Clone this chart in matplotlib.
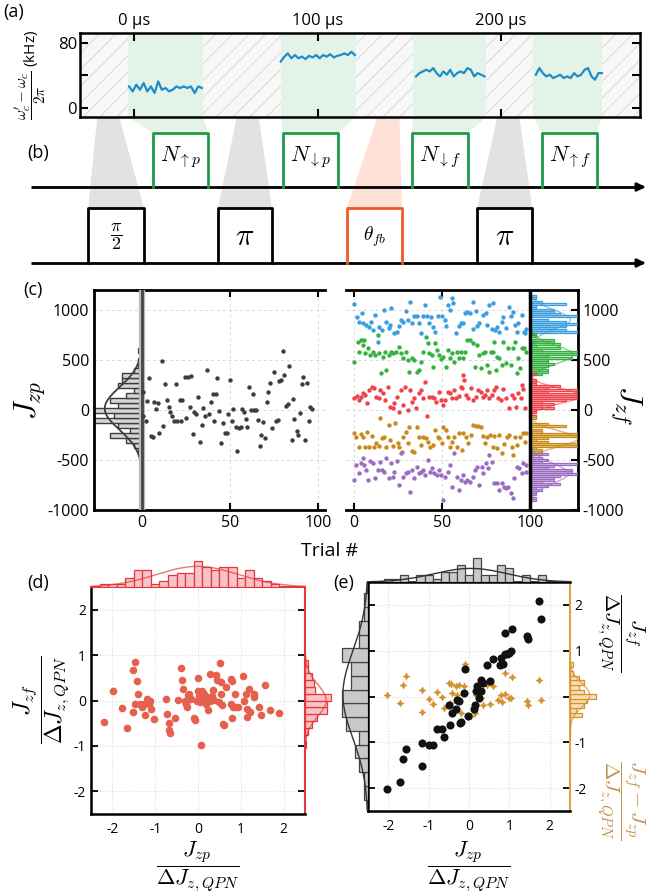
import numpy as np
import matplotlib.pyplot as plt
from matplotlib.patches import Polygon

plt.rcParams['font.family'] = ['Open Sans', 'DejaVu Sans']
plt.rcParams['mathtext.fontset'] = 'cm'
plt.rcParams['axes.unicode_minus'] = False
plt.rcParams['hatch.linewidth'] = 0.9
plt.rcParams['hatch.color'] = '#dedede'

# ---------------- data ----------------
# (a) cavity frequency shift during the four measurement windows (kHz), time in us
time_ticks = [0, 100, 200]
green_bands = [(-3.3, 37.6), (80.0, 121.0), (152.0, 192.0), (217.5, 255.0)]
trace_spans = [(-2.7, 37.0), (80.0, 120.4), (153.7, 191.0), (219.0, 255.0)]
trace_up_p = [26.5, 20.4, 28.6, 22.4, 30.6, 20.4, 26.5, 18.4, 32.6, 22.4, 24.5,
              20.4, 22.4, 26.5, 24.5, 26.5, 24.5, 26.5, 18.4, 26.5, 24.5]
trace_dn_p = [57, 63, 67, 61, 65, 61, 63, 60, 64, 62, 65, 61, 65, 63, 66, 62,
              64, 65, 67, 65, 69, 65]
trace_dn_f = [38.8, 42.8, 44.9, 46.9, 44.9, 49.0, 42.8, 38.8, 44.9, 40.8, 46.9,
              38.8, 42.8, 44.9, 42.8, 49.0, 46.9, 38.8, 42.8, 40.8, 38.8]
trace_up_f = [40.8, 49.0, 42.8, 38.8, 40.8, 36.7, 38.8, 40.8, 36.7, 38.8, 36.7,
              42.8, 38.8, 40.8, 46.9, 49.0, 38.8, 34.7, 42.8, 42.8]

# (b) pulse sequence windows (us)
meas_pulses = [(10.4, 40.3), (81.2, 111.2), (151.5, 182.0), (222.3, 252.3)]
meas_labels = [r'$N_{\uparrow p}$', r'$N_{\downarrow p}$', r'$N_{\downarrow f}$', r'$N_{\uparrow f}$']
rot_pulses = [(-25.0, 5.4), (45.8, 75.2), (116.0, 146.0), (187.0, 217.0)]
rot_labels = [r'$\dfrac{\pi}{2}$', r'$\pi$', r'$\theta_{fb}$', r'$\pi$']
rot_apex = [-14.0, 62.0, 138.7, 204.0]

# (c) left: prediction measurement J_zp per trial
zp_trial = [0.8, 0.8, 2, 4.2, 3, 5.1, 6, 7, 8, 9.8, 9, 11.2, 11.7, 12.9, 14, 15.1, 15.9,
            16.8, 18, 19.1, 19.7, 21.4, 22, 22.9, 24.6, 24.8, 26.3, 27.3, 28, 28.8, 29.7,
            30.7, 32, 33, 33.9, 34.8, 35.8, 36.7, 37.9, 39, 40.1, 40.9, 42, 42.8, 43.9, 45,
            46.2, 47.1, 48.5, 49, 50, 51.1, 51.9, 53.2, 53.8, 54.9, 56, 57, 58.1, 59, 59.8,
            61, 61.9, 62.8, 63.8, 64.7, 66, 66.8, 67.8, 68.9, 69.8, 70.8, 71.7, 72.7, 73.8,
            74.9, 76.1, 77, 78, 79.1, 80.1, 80.8, 81.8, 82.7, 83.7, 85, 85.9, 86.5, 87.8,
            88.8, 89.7, 90.7, 91.6, 92.8, 93.5, 94.7, 95.4, 96.5]
zp_J = [183, -60, -110, 317, 90, -257, -273, 77, 7, -233, 67, 493, -160, 263, 97, 27, -20,
        -60, -107, 260, -110, 100, -107, 100, 333, -83, 333, 33, 340, -243, -17, -40, 133,
        -317, -150, 17, -60, 400, -40, 80, 160, -107, 160, 317, -10, -333, -127, -227, -233,
        -40, 300, -107, 10, -173, -407, -177, -173, 10, -20, -90, -167, 233, 0, 160, 0, 0,
        -100, -360, -250, -117, -277, 80, 177, 273, -183, 377, -107, -100, 293, 300, 587,
        350, 43, 60, 443, -300, 110, -93, -210, -250, -27, 263, 327, -300, 267, -113, 27, 10]

# (c) right: final measurement J_zf per trial for five feedback settings
blue_trial = [0, 1.5, 3, 4.5, 5.3, 6.8, 8.3, 9.7, 10.6, 12.1, 13.4, 14.4, 15.9, 17.2, 18.2,
              19.7, 21, 20.4, 22.9, 24.2, 25.4, 26.7, 28, 29.5, 30.7, 31.8, 32.9, 34.3, 35.6,
              36.8, 38, 40.1, 39.4, 41.3, 42.8, 43.9, 45, 46.2, 47.5, 49, 50, 51.5, 52.2,
              53.4, 54.5, 55.7, 56.4, 57.9, 59.4, 60.8, 62.1, 63, 64.4, 65.9, 67.4, 67.8,
              69.3, 69.7, 71.2, 73.1, 75, 75.3, 76.9, 78.2, 79.1, 80.1, 81, 82.5, 83.9, 84.8,
              86.3, 88.2, 89, 90.1, 91.4, 92.8, 93.3, 95.2, 96.5, 97.1, 98]
blue_J = [1060, 933, 883, 973, 867, 850, 827, 883, 800, 950, 683, 833, 800, 1000, 883, 817,
          1017, 850, 773, 783, 840, 900, 883, 993, 900, 1080, 867, 940, 940, 867, 773, 1050,
          940, 940, 873, 933, 827, 783, 940, 1133, 940, 900, 840, 1050, 1000, 1117, 1067,
          767, 840, 867, 867, 967, 983, 973, 1083, 807, 993, 840, 867, 950, 967, 850, 1050,
          807, 1067, 800, 833, 783, 883, 933, 817, 1033, 940, 983, 850, 783, 867, 950, 783,
          773, 807]
green_trial = [0, 2.1, 3, 4, 4.9, 5.9, 6.4, 7.8, 9.1, 10.6, 12.1, 13.4, 14.4, 15.3, 16.3,
               18.2, 17.8, 19.7, 21, 22.3, 23.9, 25.4, 26.7, 28, 29.5, 30.5, 31.4, 32.9, 34.3,
               35.6, 36.8, 38, 39.4, 40.9, 41.8, 42.8, 44.3, 44.7, 46.2, 47, 48.5, 49.4, 50.7,
               52.2, 53.2, 54.5, 55.7, 57, 58.3, 59.4, 60.8, 62.1, 63, 64.4, 65.9, 67.4, 68.7,
               70, 71.2, 71.9, 73.4, 74.4, 75.7, 76.9, 77.6, 78.8, 79.5, 80.6, 81.4, 82.5,
               83.9, 84.8, 86.3, 87.6, 89, 90.1, 91.4, 92.8, 93.3, 94.3, 95.2, 96.5, 98]
green_J = [483, 683, 583, 700, 650, 700, 567, 617, 550, 583, 550, 750, 567, 367, 533, 400,
           583, 550, 583, 567, 583, 633, 567, 517, 583, 500, 383, 517, 500, 383, 400, 483,
           583, 733, 667, 567, 550, 433, 667, 600, 550, 507, 533, 433, 600, 517, 567, 483,
           583, 517, 583, 517, 583, 700, 700, 667, 433, 650, 550, 417, 567, 583, 450, 383,
           583, 583, 683, 400, 533, 517, 450, 683, 467, 617, 450, 617, 683, 367, 517, 417,
           617, 617, 583]
red_trial = [0, 1.5, 2.7, 4, 4.9, 6.4, 7.2, 8.7, 10.2, 11.5, 12.5, 14, 14.8, 16.3, 17.8,
             19.1, 20.4, 22, 22.9, 24.2, 25.4, 26.7, 27.6, 29.2, 30.5, 31.8, 32.9, 34.3, 35.2,
             36.8, 38, 39.4, 40.5, 41.3, 42.8, 44.3, 45.6, 46.6, 48.1, 49.4, 50.7, 51.9,
             53.2, 54.5, 55.7, 57, 57.9, 59.4, 60.8, 61.1, 61.7, 62.5, 63.6, 64.9, 66.3,
             67.8, 69.3, 70.6, 71.9, 73.1, 74.4, 75.7, 76.9, 78.2, 79.5, 80.6, 82, 83.3,
             84.8, 86.3, 88.2, 89.5, 90.9, 92, 93.3, 94.7, 95.2, 96.2, 97.1]
red_J = [117, 140, 100, 133, 167, 150, 67, 200, 233, 217, 133, 117, 200, 167, 100, 233, 33,
         17, 67, 133, -17, 200, 50, 233, 0, 200, 83, 117, 17, 167, 200, 117, 283, -60, 133,
         133, 117, 83, 183, 100, 50, 100, 183, 167, 117, 200, 117, 140, 233, 217, 350, 300,
         150, 117, 217, 100, 133, 200, 183, 133, 150, 200, 117, 150, 200, 233, 117, 100, 207,
         117, 17, 150, 117, 33, 167, 117, 250, 207, 17]
orange_trial = [0, 1.1, 2.7, 4, 5.3, 6.4, 7.2, 8.7, 10.2, 11.4, 12.5, 14, 14.8, 15.9, 17.2,
                18.2, 19.7, 20.4, 22, 23.5, 24.8, 25.7, 27.3, 28, 29.5, 30.5, 31.4, 32.9,
                34.3, 35.6, 36.8, 38, 39.4, 40.9, 41.8, 43.2, 44.7, 46.2, 47.5, 48.5, 50,
                50.7, 52.2, 53.2, 54.5, 55.7, 57, 58.3, 59.8, 61.1, 62.1, 63.6, 64.9, 66.3,
                67.8, 69.3, 70.6, 71.9, 73.4, 74.4, 75.7, 77.2, 78.8, 79.5, 81, 82.5, 83.9,
                85.2, 86.7, 88.2, 89.5, 90.1, 91.4, 92.8, 94.3, 95.8, 97.1, 98]
orange_J = [-233, -267, -367, -240, -267, -367, -217, -367, -260, -367, -333, -360, -83,
            -283, -267, -367, -150, -300, -360, -133, -333, -367, -417, -267, -217, -333,
            -167, -410, -417, -167, -267, -350, -267, -283, -317, -367, -350, -200, -267,
            -283, -333, -167, -200, -267, -367, -317, -267, -367, -233, -400, -233, -267,
            -333, -250, -150, -160, -160, -167, -260, -333, -267, -250, -367, -260, -383,
            -250, -433, -340, -267, -250, -367, -450, -267, -350, -267, -233, -317, -233]
purple_trial = [0, 1.1, 3, 4, 4.9, 5.9, 6.8, 7.8, 9.1, 10.6, 12.1, 13.4, 14.8, 15.9, 17.2,
                18.2, 19.7, 21, 22, 22.9, 24.2, 25.7, 26.7, 28, 29.5, 30.7, 31.8, 32.9, 34.3,
                35.6, 36.8, 38, 39.4, 40.5, 41.8, 43.2, 44.3, 45.6, 47, 48.1, 49.4, 50.7,
                51.9, 53.2, 54.5, 55.7, 57, 58.3, 59.4, 60.8, 61.7, 63, 64.4, 65.9, 67.4,
                68.7, 69.7, 71.2, 72.5, 73.4, 75, 76.3, 76.9, 78.2, 79.5, 81, 82.5, 83.9,
                85.2, 86.3, 87.6, 89, 90.1, 90.9, 92.4, 93.9, 95.2, 96.2, 97.7, 98]
purple_J = [-700, -550, -633, -533, -483, -550, -600, -700, -507, -533, -683, -600, -517,
            -600, -617, -483, -683, -533, -667, -617, -507, -750, -433, -667, -633, -617,
            -817, -600, -683, -567, -633, -617, -600, -650, -500, -617, -583, -633, -650,
            -600, -650, -900, -667, -617, -550, -767, -433, -667, -800, -700, -650, -717,
            -700, -717, -667, -600, -567, -750, -567, -633, -533, -583, -450, -517, -733,
            -733, -800, -733, -767, -783, -767, -833, -883, -683, -567, -583, -633, -533,
            -550, -617]

# (d) normalised Jzp vs Jzf (feedback on)
d_x = [-2.19, -1.98, -1.78, -1.66, -1.53, -1.51, -1.47, -1.43, -1.48, -1.40, -1.35, -1.30,
       -1.25, -1.27, -1.19, -1.15, -1.10, -1.12, -1.02, -0.75, -0.73, -0.67, -0.67, -0.65,
       -0.53, -0.46, -0.40, -0.38, -0.34, -0.30, -0.28, -0.24, -0.20, -0.26, -0.16, -0.09,
       -0.07, -0.02, -0.01, 0.01, 0.03, 0.05, 0.09, 0.11, 0.15, 0.18, 0.21, 0.24, 0.27, 0.29,
       0.32, 0.35, 0.38, 0.43, 0.45, 0.48, 0.52, 0.54, 0.54, 0.56, 0.59, 0.60, 0.65, 0.76,
       0.80, 0.77, 0.79, 0.81, 0.86, 0.89, 0.94, 1.06, 1.08, 1.11, 1.14, 1.14, 1.19, 1.21,
       1.30, 1.32, 1.43, 1.48, 1.56, 1.69, 1.90, 0.07]
d_y = [-0.48, 0.22, -0.16, -0.60, -0.26, 0.67, 0.84, 0.42, -0.07, 0.15, -0.07, -0.15, -0.31,
       -0.07, 0.04, -0.07, -0.18, -0.02, -0.41, 0.04, -0.29, -0.50, -0.66, -0.71, -0.39,
       0.01, 0.72, 0.45, 0.26, 0.0, -0.07, 0.13, 0.15, -0.15, 0.04, -0.38, -0.44, 0.0, 0.22,
       0.50, 0.11, -0.04, 0.22, 0.06, 0.15, -0.07, 0.07, -0.22, 0.0, 0.59, 0.11, 0.24, 0.01,
       0.57, 0.45, -0.04, 0.82, 0.40, 0.15, -0.11, -0.51, -0.55, 0.29, 0.48, 0.44, -0.07,
       -0.39, -0.15, 0.15, -0.15, -0.15, 0.53, 0.0, 0.15, -0.18, -0.37, 0.26, -0.26, 0.15,
       0.07, -0.15, -0.31, 0.35, -0.22, -0.28, -0.97]

# (e) normalised Jzp vs Jzf (black) and Jzf - Jzp (orange), feedback off
e_x = [-2.04, -1.71, -1.57, -1.63, -1.16, -1.16, -0.99, -0.90, -0.80, -0.67, -0.62, -0.47,
       -0.50, -0.43, -0.31, -0.23, -0.19, -0.29, -0.25, -0.12, -0.09, -0.02, 0.12, 0.16,
       0.18, 0.20, 0.29, 0.30, 0.24, 0.35, 0.44, 0.52, 0.59, 0.76, 0.80, 0.84, 0.88, 0.94,
       1.00, 1.04, 0.88, 1.06, 1.44, 1.47, 1.74, 1.77]
e_y = [-2.02, -1.87, -1.14, -1.36, -1.51, -1.02, -1.05, -1.06, -0.72, -0.70, -0.89, -0.63,
       -0.19, -0.37, -0.28, -0.58, -0.55, -0.07, -0.09, 0.07, 0.61, -0.43, -0.28, -0.19,
       0.13, 0.23, 0.35, 0.13, -0.03, 0.30, 0.69, 0.34, 0.81, 0.69, 0.83, 0.70, 0.93, 0.92,
       0.96, 0.99, 1.39, 1.48, 1.32, 1.26, 2.09, 1.70]
o_x = [-2.04, -1.71, -1.63, -1.57, -1.16, -1.16, -0.99, -0.89, -0.80, -0.67, -0.62, -0.50,
       -0.45, -0.43, -0.47, -0.31, -0.29, -0.25, -0.19, -0.12, -0.09, -0.02, 0.06, 0.14,
       0.18, 0.18, 0.24, 0.29, 0.35, 0.45, 0.52, 0.59, 0.71, 0.78, 0.81, 0.88, 0.89, 0.99,
       1.06, 1.04, 1.44, 1.47, 1.74, 1.77]
o_y = [0.03, -0.15, 0.26, 0.44, 0.14, -0.34, -0.05, -0.16, 0.10, -0.01, -0.26, 0.30, 0.28,
       0.08, -0.14, 0.23, 0.03, 0.26, -0.36, 0.23, 0.71, -0.45, -0.43, -0.36, -0.18, 0.04,
       0.06, -0.03, -0.18, 0.26, -0.16, 0.23, -0.07, 0.04, -0.13, 0.52, 0.06, -0.03, 0.43,
       -0.04, -0.10, -0.19, 0.36, -0.07]

# ---------------- figure ----------------
W, H = 649, 894
fig = plt.figure(figsize=(W / 100, H / 100), dpi=100)


def px_axes(x0, y0, x1, y1):
    return fig.add_axes([x0 / W, 1 - y1 / H, (x1 - x0) / W, (y1 - y0) / H])


def gauss(vals, bw, scale, lo, hi):
    v = np.asarray(vals, float)
    mu, sd = v.mean(), v.std()
    y = np.linspace(lo, hi, 300)
    amp = len(v) * bw * scale / (sd * np.sqrt(2 * np.pi))
    return y, amp * np.exp(-(y - mu) ** 2 / (2 * sd ** 2))


GREEN = '#1f9a48'
GREEN_BG = '#e4f3e8'
GRAY_TRI = '#e2e2e2'
SALMON = '#fde0d6'

# schematic (b) and connectors, x in us, y in pixels
sch = px_axes(0, 117, W, 282)
sch.set_xlim((0 - 134) / 1.835, (W - 134) / 1.835)
sch.set_ylim(282, 117)
sch.axis('off')
for (a, b), (p, q) in zip(green_bands, meas_pulses):
    sch.add_patch(Polygon([(a, 117), (b, 117), (q, 133), (p, 133)], closed=True,
                          facecolor=GREEN_BG, edgecolor='none'))
for i, (c, (p, q)) in enumerate(zip(rot_apex, rot_pulses)):
    col = SALMON if i == 2 else GRAY_TRI
    sch.add_patch(Polygon([(c - 6, 117), (c + 6, 117), (q, 208), (p, 208)], closed=True,
                          facecolor=col, edgecolor='none'))

x_start = (31 - 134) / 1.835
x_end = (W - 134) / 1.835 - 0.3
for base, top, pulses, labels in [(187, 133, meas_pulses, meas_labels),
                                  (263, 208, rot_pulses, rot_labels)]:
    sch.plot([x_start, x_end - 4], [base, base], color='k', lw=2, solid_capstyle='butt')
    sch.annotate('', xy=(x_end, base), xytext=(x_end - 6, base),
                 arrowprops=dict(arrowstyle='-|>', color='k', lw=2, mutation_scale=12))
    for i, ((a, b), lab) in enumerate(zip(pulses, labels)):
        if base == 187:
            col = GREEN
        else:
            col = '#f05a28' if i == 2 else 'k'
        sch.plot([a, a, b, b], [base, top, top, base], color=col, lw=2, zorder=3)
        if base == 187:
            sch.text((a + b) / 2, 157, lab, ha='center', va='center', fontsize=16)
        else:
            fs = 22 if lab == r'$\pi$' else (14 if 'theta' in lab else 13)
            sch.text((a + b) / 2, 237, lab, ha='center', va='center', fontsize=fs)

# (a)
axa = px_axes(80, 33, 640, 117)
axa.set_xlim((80 - 134) / 1.835, (640 - 134) / 1.835)
axa.set_ylim(-11, 92)
axa.axvspan(-40, 300, facecolor='#f8f8f8', edgecolor='#dedede', hatch='//', lw=0, zorder=0)
for a, b in green_bands:
    axa.axvspan(a, b, facecolor=GREEN_BG, edgecolor='none', zorder=1)
for (t0, t1), tr in zip(trace_spans, [trace_up_p, trace_dn_p, trace_dn_f, trace_up_f]):
    axa.plot(np.linspace(t0, t1, len(tr)), tr, color='#1d8cc8', lw=1.6, zorder=3)
axa.set_xticks(time_ticks)
axa.set_xticklabels([f'{t} µs' for t in time_ticks])
axa.set_yticks([0, 40, 80])
axa.set_yticklabels(['0', '', '80'])
axa.tick_params(axis='x', top=True, bottom=True, labeltop=True, labelbottom=False,
                direction='in', length=6, width=1.5, labelsize=12, pad=3)
axa.tick_params(axis='y', left=True, right=True, direction='in', length=6, width=1.5,
                labelsize=12, pad=2)
for s in axa.spines.values():
    s.set_linewidth(1.8)

# (c)
axL = px_axes(94, 290, 325, 510)
axR = px_axes(346, 290, 578, 510)
axL.set_xlim((94 - 142) / 1.76, (325 - 142) / 1.76)
axR.set_xlim((346 - 354) / 1.76, (578 - 354) / 1.76)
for ax in (axL, axR):
    ax.set_ylim(-1000, 1200)
    ax.set_xticks([0, 50, 100])
    ax.set_yticks([-1000, -500, 0, 500, 1000])
    ax.grid(True, color='#d8d8d8', lw=0.7, ls=(0, (3, 3)))
    ax.set_axisbelow(True)
    for s in ax.spines.values():
        s.set_linewidth(2)
    ax.tick_params(axis='x', top=True, bottom=True, direction='in', length=5, width=1.5,
                   labelsize=11.5)
axL.spines['right'].set_visible(False)
axR.spines['left'].set_visible(False)
axL.tick_params(axis='y', direction='in', length=0, labelsize=11.5)
axR.tick_params(axis='y', left=False, right=True, labelleft=False, labelright=True,
                direction='in', length=5, width=1.5, labelsize=11.5)

# left: histogram and scatter of Jzp
bins_L = np.arange(-625, 676, 50)
axL.hist(zp_J, bins=bins_L, orientation='horizontal', weights=np.full(len(zp_J), -2.3),
         facecolor='#d6d6d6', edgecolor='#3d3d3d', lw=1, zorder=2)
yy, gg = gauss(zp_J, 50, 2.3, -650, 650)
axL.plot(-gg, yy, color='#3d3d3d', lw=1.3, zorder=3)
axL.axvline(0, color='#bbbbbb', lw=4.5, zorder=3)
axL.axvline(0, color='#454545', lw=2, zorder=4)
axL.scatter(zp_trial, zp_J, s=10, color='#3d3d3d', lw=0, zorder=5)

series = [(blue_trial, blue_J, '#3a9ee0'), (green_trial, green_J, '#35b13f'),
          (red_trial, red_J, '#f0424a'), (orange_trial, orange_J, '#c98a1c'),
          (purple_trial, purple_J, '#9a6cc2')]
bins_R = np.arange(-1010, 1200, 20)
for tr, J, col in series:
    axR.scatter(tr, J, s=10, color=col, lw=0, zorder=5)
    axR.hist(J, bins=bins_R, orientation='horizontal', bottom=100,
             weights=np.full(len(J), 3.4), facecolor=col, alpha=0.4, edgecolor='none',
             zorder=2)
    axR.hist(J, bins=bins_R, orientation='horizontal', bottom=100,
             weights=np.full(len(J), 3.4), histtype='bar', fill=False, edgecolor=col,
             lw=0.9, zorder=3)
    mu = np.mean(J)
    yy, gg = gauss(J, 20, 3.4, mu - 300, mu + 300)
    axR.plot(100 + gg, yy, color=col, lw=1.0, alpha=0.6, zorder=3)
axR.axvline(100, color='k', lw=2.5, zorder=6)

# (d)
RED = '#e8363d'
axd = px_axes(91, 587, 305, 814)
axd.scatter(d_x, d_y, s=30, color='#e5604d', lw=0, zorder=3)
axd.set_xlim(-2.5, 2.5)
axd.set_ylim(-2.5, 2.5)
axd.set_xticks([-2, -1, 0, 1, 2])
axd.set_yticks([-2, -1, 0, 1, 2])
axd.grid(True, color='#dcdcdc', lw=0.8, ls=':')
axd.set_axisbelow(True)
axd.tick_params(axis='y', left=True, right=True, direction='in', length=5, width=1.3,
                labelsize=10)
axd.tick_params(axis='x', length=0, labelsize=10, pad=6)
axd.spines['left'].set_linewidth(1.8)
axd.spines['bottom'].set_linewidth(1.8)
axd.spines['top'].set_color(RED)
axd.spines['right'].set_color(RED)
axd.spines['top'].set_linewidth(1.5)
axd.spines['right'].set_linewidth(1.5)

dtop = px_axes(91, 558, 305, 587)
bins_dx = np.arange(-2.5, 2.51, 0.2)
n, _, _ = dtop.hist(d_x, bins=bins_dx, facecolor='#f7c4c7', edgecolor=RED, lw=0.9)
xx, gg = gauss(d_x, 0.2, 1, -2.5, 2.5)
dtop.plot(xx, gg, color=RED, lw=1.0, alpha=0.7)
dtop.set_xlim(-2.5, 2.5)
dtop.set_ylim(0, n.max() * 1.12)
dtop.axis('off')

dright = px_axes(305, 587, 333, 814)
bins_dy = np.arange(-1.05, 1.06, 0.15)
n, _, _ = dright.hist(d_y, bins=bins_dy, orientation='horizontal', facecolor='#f7c4c7',
                      edgecolor=RED, lw=0.9)
yy, gg = gauss(d_y, 0.15, 1, -1.2, 1.2)
dright.plot(gg, yy, color=RED, lw=1.0, alpha=0.7)
dright.set_ylim(-2.5, 2.5)
dright.set_xlim(0, n.max() * 1.08)
dright.axis('off')

# (e)
ORANGE = '#d49330'
axe = px_axes(368, 582, 570, 811)
axe.scatter(o_x, o_y, s=34, marker=(4, 1, 0), color=ORANGE, lw=0, zorder=3)
axe.scatter(e_x, e_y, s=34, color='#111111', lw=0, zorder=4)
axe.set_xlim(-2.5, 2.5)
axe.set_ylim(-2.5, 2.5)
axe.set_xticks([-2, -1, 0, 1, 2])
axe.set_yticks([-2, -1, 0, 1, 2])
axe.set_yticklabels(['-2', '-1', '', '1', '2'])
axe.grid(True, color='#dcdcdc', lw=0.8, ls=':')
axe.set_axisbelow(True)
axe.tick_params(axis='y', left=True, right=True, labelleft=False, labelright=True,
                direction='in', length=5, width=1.3, labelsize=10)
axe.tick_params(axis='x', length=0, labelsize=10, pad=6)
for s in ['left', 'bottom', 'top']:
    axe.spines[s].set_linewidth(1.8)
axe.spines['right'].set_color('#dba24b')
axe.spines['right'].set_linewidth(1.5)

etop = px_axes(368, 556, 570, 582)
bins_ex = np.arange(-2.5, 2.51, 0.2)
n, _, _ = etop.hist(e_x, bins=bins_ex, facecolor='#c9c9c9', edgecolor='#444444', lw=0.9)
xx, gg = gauss(e_x, 0.2, 1, -2.5, 2.5)
etop.plot(xx, gg, color='#333333', lw=1.0)
etop.set_xlim(-2.5, 2.5)
etop.set_ylim(0, n.max() * 1.1)
etop.axis('off')

eleft = px_axes(340, 582, 368, 811)
bins_ey = np.arange(-2.25, 2.26, 0.3)
n, _, _ = eleft.hist(e_y, bins=bins_ey, orientation='horizontal', facecolor='#c9c9c9',
                     edgecolor='#444444', lw=0.9)
yy, gg = gauss(e_y, 0.3, 1, -2.5, 2.5)
eleft.plot(gg, yy, color='#333333', lw=1.0)
eleft.set_ylim(-2.5, 2.5)
eleft.set_xlim(n.max() * 1.08, 0)
eleft.axis('off')

eright = px_axes(570, 582, 598, 811)
bins_oy = np.arange(-0.85, 0.86, 0.1)
n, _, _ = eright.hist(o_y, bins=bins_oy, orientation='horizontal', facecolor='#f7dfb5',
                      edgecolor=ORANGE, lw=0.9)
yy, gg = gauss(o_y, 0.1, 1, -1.0, 1.0)
eright.plot(gg, yy, color=ORANGE, lw=1.0, alpha=0.7)
eright.set_ylim(-2.5, 2.5)
eright.set_xlim(0, n.max() * 1.08)
eright.axis('off')


# ---------------- texts ----------------
def ftext(x, y, s, **kw):
    fig.text(x / W, 1 - y / H, s, ha='center', va='center', **kw)


ftext(14, 12, '(a)', fontsize=13)
ftext(38, 153, '(b)', fontsize=13)
ftext(33, 290, '(c)', fontsize=13)
ftext(38, 583, '(d)', fontsize=13)
ftext(344, 583, '(e)', fontsize=13)
ftext(330, 551, 'Trial #', fontsize=14)
ftext(30, 75, r"$\dfrac{\omega_c'-\omega_c}{2\pi}$ (kHz)", fontsize=11, rotation=90)
ftext(30, 400, r'$J_{zp}$', fontsize=22, rotation=90)
ftext(626, 405, r'$J_{zf}$', fontsize=22, rotation=270)
ftext(42, 700, r'$\dfrac{J_{zf}}{\Delta J_{z,QPN}}$', fontsize=17, rotation=90)
ftext(198, 866, r'$\dfrac{J_{zp}}{\Delta J_{z,QPN}}$', fontsize=16)
ftext(469, 866, r'$\dfrac{J_{zp}}{\Delta J_{z,QPN}}$', fontsize=16)
ftext(621, 632, r'$\dfrac{J_{zf}}{\Delta J_{z,QPN}}$', fontsize=15, rotation=270)
ftext(621, 800, r'$\dfrac{J_{zf}-J_{zp}}{\Delta J_{z,QPN}}$', fontsize=15, rotation=270,
      color='#c39250')

fig.savefig('out.png', dpi=100)
